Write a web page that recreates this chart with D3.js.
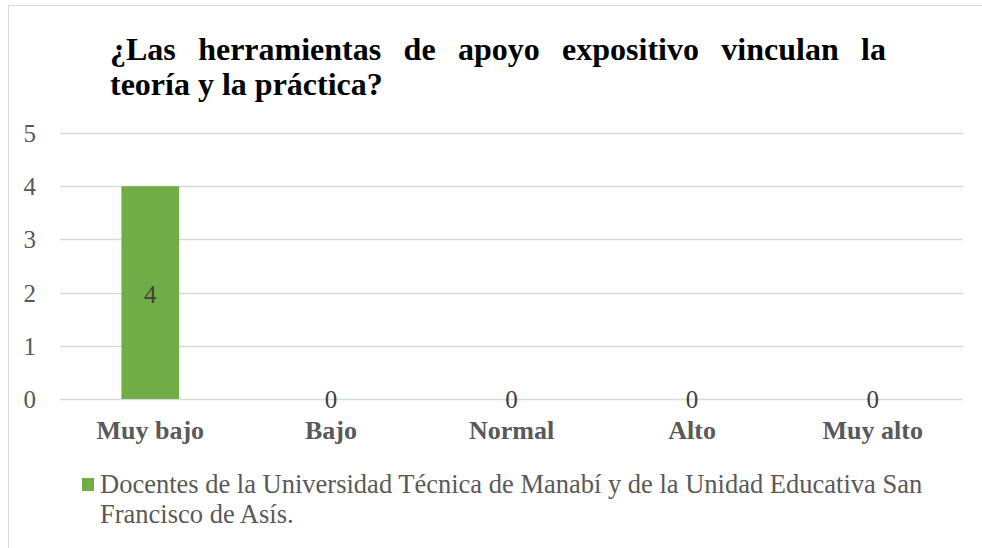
<!DOCTYPE html>
<html><head><meta charset="utf-8">
<script src="https://cdn.jsdelivr.net/npm/d3@7"></script>
<style>html,body{margin:0;padding:0;background:#fff;}svg{display:block;}</style>
</head><body>
<svg id="chart" width="982" height="548"></svg>
<script>
const categories = ["Muy bajo", "Bajo", "Normal", "Alto", "Muy alto"];
const values = [4, 0, 0, 0, 0];
const yTicks = [0, 1, 2, 3, 4, 5];
const titleLines = ["¿Las herramientas de apoyo expositivo vinculan la", "teoría y la práctica?"];
const legendLines = ["Docentes de la Universidad Técnica de Manabí y de la Unidad Educativa San", "Francisco de Asís."];

const svg = d3.select("#chart");
const serif = "'Liberation Serif','Times New Roman',serif";

svg.append("rect").attr("x", 8.5).attr("y", 5.5).attr("width", 1000).attr("height", 600)
  .attr("fill", "#fff").attr("stroke", "#d9d9d9").attr("stroke-width", 1);

// Title: first line justified by distributing space between words
const title = svg.append("g").attr("font-family", serif).attr("font-weight", "bold")
  .attr("font-size", 32).attr("fill", "#000");
const tLeft = 110, tRight = 886;
const words = titleLines[0].split(" ");
const wNodes = words.map(w => title.append("text").attr("y", 60).text(w));
const widths = wNodes.map(n => n.node().getComputedTextLength());
const gap = (tRight - tLeft - d3.sum(widths)) / (words.length - 1);
let cx = tLeft;
wNodes.forEach((n, i) => { n.attr("x", cx); cx += widths[i] + gap; });
title.append("text").attr("x", tLeft).attr("y", 95).text(titleLines[1]);

const x = d3.scaleBand().domain(categories).range([60, 963]).padding(0);
const y = d3.scaleLinear().domain([0, 5]).range([399, 133]);

// gridlines
svg.append("g").selectAll("line").data(yTicks).join("line")
  .attr("x1", 60).attr("x2", 963)
  .attr("y1", d => Math.round(y(d)) + 0.5).attr("y2", d => Math.round(y(d)) + 0.5)
  .attr("stroke", "#d9d9d9").attr("stroke-width", 1.3);

// y axis labels
const yAxis = d3.axisLeft(y).tickValues(yTicks).tickSize(0).tickPadding(0).tickFormat(d3.format("d"));
const ya = svg.append("g").attr("transform", "translate(36,0)").call(yAxis);
ya.select(".domain").remove();
ya.selectAll("text").attr("font-family", serif).attr("font-size", 25).attr("fill", "#595959").attr("dy", "0.34em");

// bars
const barW = x.bandwidth() * 0.32;
svg.append("g").selectAll("rect").data(values).join("rect")
  .attr("x", (d, i) => x(categories[i]) + x.bandwidth() / 2 - barW / 2)
  .attr("y", d => y(d)).attr("width", barW).attr("height", d => y(0) - y(d))
  .attr("fill", "#70ad47");

// data labels
svg.append("g").selectAll("text").data(values).join("text")
  .attr("x", (d, i) => x(categories[i]) + x.bandwidth() / 2)
  .attr("y", d => d > 0 ? (y(d) + y(0)) / 2 + 2 : y(0))
  .attr("dy", "0.34em")
  .attr("text-anchor", "middle").attr("font-family", serif).attr("font-size", 25).attr("fill", "#404040")
  .text(d => d);

// x axis labels
const xAxis = d3.axisBottom(x).tickSize(0).tickPadding(0);
const xa = svg.append("g").attr("transform", "translate(0,439)").call(xAxis);
xa.select(".domain").remove();
xa.selectAll("text").attr("font-family", serif).attr("font-size", 26).attr("font-weight", "bold")
  .attr("fill", "#595959").attr("y", 0).attr("dy", "0");

// legend
svg.append("rect").attr("x", 82).attr("y", 478).attr("width", 12).attr("height", 13).attr("fill", "#70ad47");
const lg = svg.append("g").attr("font-family", serif).attr("font-size", 26.5).attr("fill", "#595959");
lg.selectAll("text").data(legendLines).join("text")
  .attr("x", 100).attr("y", (d, i) => 493 + i * 30).text(d => d);
</script>
</body></html>
